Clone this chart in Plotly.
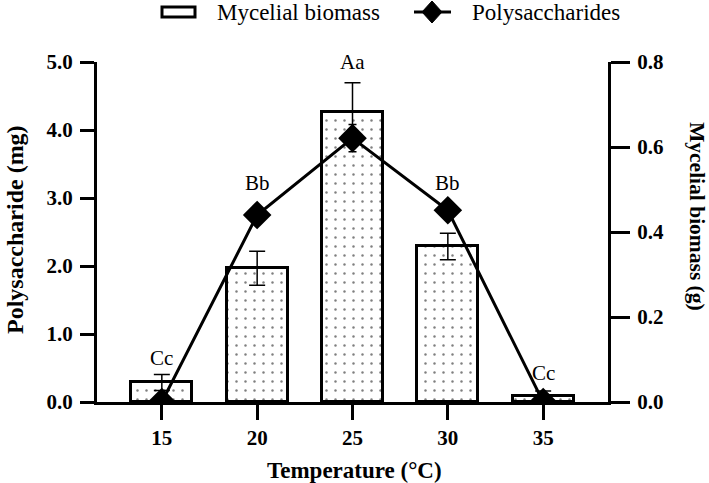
import plotly.graph_objects as go

temperature = [15, 20, 25, 30, 35]
biomass_g = [0.046, 0.315, 0.682, 0.366, 0.015]
biomass_err = [0.019, 0.040, 0.069, 0.031, 0.011]
polysaccharide_mg = [0.0, 2.75, 3.88, 2.82, 0.0]
polysaccharide_err = [0.0, 0.05, 0.20, 0.05, 0.0]
letters = ["Cc", "Bb", "Aa", "Bb", "Cc"]
letter_y_mg = [0.65, 3.22, 5.0, 3.22, 0.43]

left_ticks = [0, 1, 2, 3, 4, 5]
left_ticktext = ["0.0", "1.0", "2.0", "3.0", "4.0", "5.0"]
right_ticks = [0, 0.2, 0.4, 0.6, 0.8]
right_ticktext = ["0.0", "0.2", "0.4", "0.6", "0.8"]

FONT = "Liberation Serif"

fig = go.Figure()
fig.add_trace(go.Bar(
    x=temperature, y=biomass_g, width=3.2, name="Mycelial biomass",
    yaxis="y", showlegend=False,
    marker=dict(color="white", line=dict(color="black", width=3),
                pattern=dict(shape=".", fgcolor="black", bgcolor="white", size=9, solidity=0.06)),
    error_y=dict(type="data", array=biomass_err, color="black", thickness=1.5, width=8),
))
fig.add_trace(go.Scatter(
    x=temperature, y=polysaccharide_mg, name="Polysaccharides", yaxis="y2",
    mode="lines+markers", showlegend=False,
    line=dict(color="black", width=3),
    marker=dict(symbol="diamond", size=22, color="black"),
    error_y=dict(type="data", array=polysaccharide_err, color="black", thickness=1.5, width=4),
))

for t, lab, ly in zip(temperature, letters, letter_y_mg):
    fig.add_annotation(x=t, y=ly, xref="x", yref="y2", text=lab, showarrow=False,
                       xanchor="center", yanchor="middle",
                       font=dict(family=FONT, size=21, color="black"))

# pixel -> paper conversion: x=(px-97)/511, y=(402-py)/340
def px(x):
    return (x - 97) / 511

def py(y):
    return (402 - y) / 340

# axis titles
fig.add_annotation(x=px(15), y=py(230), xref="paper", yref="paper", text="<b>Polysaccharide (mg)</b>",
                   xanchor="center", yanchor="middle",
                   textangle=-90, showarrow=False, font=dict(family=FONT, size=24, color="black"))
fig.add_annotation(x=px(697), y=py(216), xref="paper", yref="paper", text="<b>Mycelial biomass (g)</b>",
                   xanchor="center", yanchor="middle",
                   textangle=90, showarrow=False, font=dict(family=FONT, size=21.5, color="black"))
fig.add_annotation(x=px(354), y=py(470), xref="paper", yref="paper", text="<b>Temperature (°C)</b>",
                   xanchor="center", yanchor="middle",
                   showarrow=False, font=dict(family=FONT, size=23, color="black"))

# custom legend
fig.add_shape(type="rect", xref="paper", yref="paper", x0=px(162), x1=px(195), y0=py(17), y1=py(7),
              line=dict(color="black", width=3), fillcolor="white")
fig.add_annotation(x=px(215), y=py(12), xref="paper", yref="paper", xanchor="left", yanchor="middle",
                   text="Mycelial biomass", showarrow=False, font=dict(family=FONT, size=23, color="black"))
fig.add_shape(type="line", xref="paper", yref="paper", x0=px(414), x1=px(451), y0=py(12), y1=py(12),
              line=dict(color="black", width=3))
cx, cy = 432, 12
fig.add_shape(type="path", xref="paper", yref="paper",
              path=f"M {px(cx-10)},{py(cy)} L {px(cx)},{py(cy-11)} L {px(cx+10)},{py(cy)} L {px(cx)},{py(cy+11)} Z",
              fillcolor="black", line=dict(color="black", width=1))
fig.add_annotation(x=px(470), y=py(12), xref="paper", yref="paper", xanchor="left", yanchor="middle",
                   text="Polysaccharides", showarrow=False, font=dict(family=FONT, size=23, color="black"))

axis_common = dict(showgrid=False, zeroline=False, showline=True, linecolor="black", linewidth=3,
                   ticks="outside", tickwidth=3, tickcolor="black",
                   tickfont=dict(family=FONT, size=21, color="black", weight="bold"))

fig.update_layout(
    width=709, height=483,
    margin=dict(l=97, r=101, t=62, b=81, autoexpand=False),
    plot_bgcolor="white", paper_bgcolor="white",
    bargap=0,
    showlegend=False,
    xaxis=dict(range=[11.6, 38.4], tickvals=temperature, ticktext=[str(t) for t in temperature],
               ticklen=15, **axis_common),
    yaxis=dict(side="right", range=[0, 0.8], tickvals=right_ticks, ticktext=right_ticktext,
               ticklen=19, ticklabelstandoff=3, **axis_common),
    yaxis2=dict(side="left", overlaying="y", range=[0, 5], tickvals=left_ticks, ticktext=left_ticktext,
                ticklen=14, ticklabelstandoff=3, **axis_common),
)

fig.write_html("out.html", config={"displayModeBar": False},
               post_script="document.body.style.margin='0px';")
